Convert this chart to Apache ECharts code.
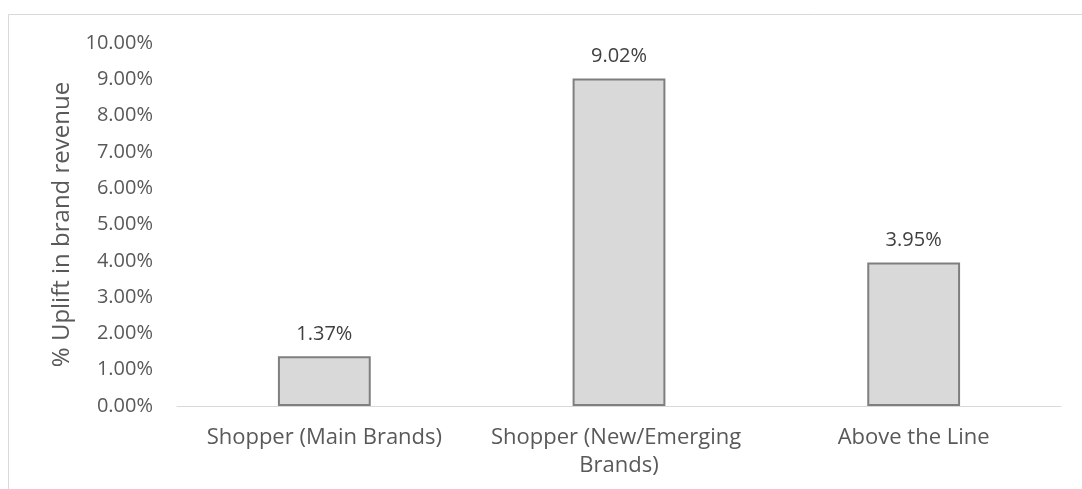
<!DOCTYPE html>
<html>
<head>
<meta charset="utf-8">
<script src="https://cdn.jsdelivr.net/npm/echarts@6/dist/echarts.min.js"></script>
<style>
  html, body { margin: 0; padding: 0; background: #fff; }
  #chart { width: 1082px; height: 489px; }
</style>
</head>
<body>
<div id="chart"></div>
<script>
// categories and values (percent uplift)
const categories = ['Shopper (Main Brands)', 'Shopper (New/Emerging Brands)', 'Above the Line']
const uplift = [1.37, 9.02, 3.95]
const yTicks = { min: 0, max: 10, step: 1 }

const textColor = '#595959'
const fontFamily = '"Open Sans", "Noto Sans", sans-serif'

const chart = echarts.init(document.getElementById('chart'))

const option = {
  animation: false,
  textStyle: { fontFamily: fontFamily },
  graphic: [
    {
      type: 'rect',
      shape: { x: 8.5, y: 14.5, width: 1100, height: 500 },
      style: { fill: 'none', stroke: '#d9d9d9', lineWidth: 1 },
      silent: true
    }
  ],
  grid: { left: 177, right: 21, top: 43, bottom: 83 },
  xAxis: {
    type: 'category',
    data: categories,
    axisLine: { lineStyle: { color: '#d9d9d9', width: 1 } },
    axisTick: { show: false },
    axisLabel: {
      color: textColor,
      fontSize: 22,
      margin: 18,
      lineHeight: 28,
      width: 270,
      overflow: 'break',
      interval: 0
    }
  },
  yAxis: {
    type: 'value',
    min: yTicks.min,
    max: yTicks.max,
    interval: yTicks.step,
    name: '% Uplift in brand revenue',
    nameLocation: 'middle',
    nameGap: 99,
    nameTextStyle: { color: textColor, fontSize: 24 },
    splitLine: { show: false },
    axisLine: { show: false },
    axisTick: { show: false },
    axisLabel: {
      color: textColor,
      fontSize: 20,
      margin: 24,
      formatter: v => v.toFixed(2) + '%'
    }
  },
  series: [
    {
      type: 'bar',
      data: uplift,
      barWidth: '31.5%',
      itemStyle: { color: '#d9d9d9', borderColor: '#7f7f7f', borderWidth: 2 },
      label: {
        show: true,
        position: 'top',
        distance: 12,
        color: '#404040',
        fontSize: 20,
        formatter: p => p.value.toFixed(2) + '%'
      }
    }
  ]
}

chart.setOption(option)
</script>
</body>
</html>
